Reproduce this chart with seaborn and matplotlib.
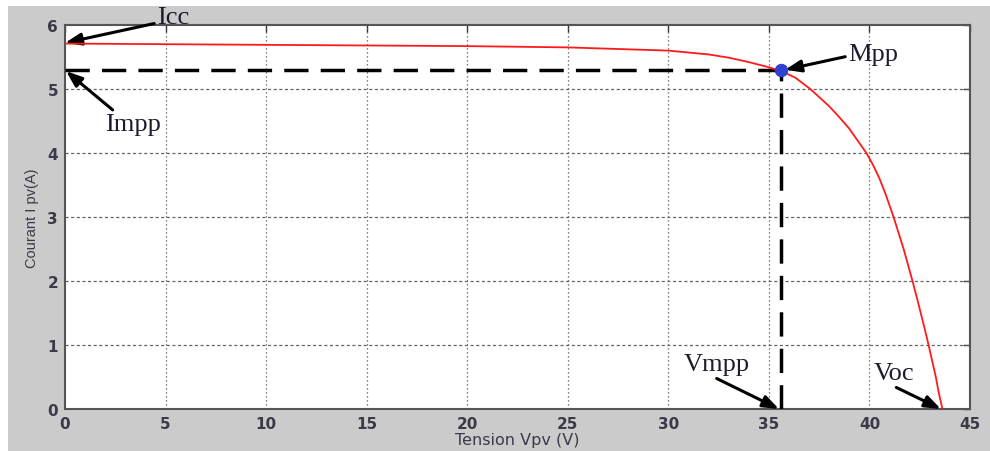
import matplotlib
matplotlib.use("Agg")
import matplotlib.pyplot as plt
from matplotlib.patches import Rectangle
import seaborn as sns
import pandas as pd

# Data
tension_v = [0, 5, 10, 15, 20, 25, 30, 32, 33, 34, 35, 35.6, 36.3, 37.06, 38, 38.5, 39,
             39.4, 39.85, 40.2, 40.5, 40.8, 41.2, 41.45, 41.7, 41.92, 42.14, 42.35,
             42.55, 42.75, 42.94, 43.12, 43.3, 43.45, 43.63]
courant_a = [5.71, 5.70, 5.69, 5.68, 5.67, 5.65, 5.60, 5.54, 5.49, 5.42, 5.34, 5.28,
             5.18, 5.0, 4.73, 4.56, 4.38, 4.2, 4.0, 3.8, 3.6, 3.36, 3.0, 2.75, 2.5,
             2.25, 2.0, 1.75, 1.5, 1.25, 1.0, 0.75, 0.5, 0.25, 0.0]
vmpp = 35.6
impp = 5.29
x_ticks = [0, 5, 10, 15, 20, 25, 30, 35, 40, 45]
y_ticks = [0, 1, 2, 3, 4, 5, 6]

sns.set_theme(style="white")
plt.rcParams['font.family'] = ['DejaVu Sans']

fig = plt.figure(figsize=(9.9, 4.52), dpi=100, facecolor="white")
fig.patches.append(Rectangle((8 / 990, 0), 1, (452 - 7) / 452, transform=fig.transFigure,
                             facecolor="#cbcbcb", edgecolor="none", zorder=-10))
ax = fig.add_axes([65 / 990, 42 / 452, 905 / 990, 384 / 452])
ax.set_facecolor("white")

df = pd.DataFrame({"V": tension_v, "I": courant_a})

# Grid
for xv in x_ticks[1:-1]:
    ax.axvline(xv, color="#555555", lw=0.9, ls=(0, (1, 2.2)), zorder=1)
for yv in y_ticks[1:-1]:
    ax.axhline(yv, color="#666666", lw=0.9, ls=(0, (2.5, 2)), zorder=1)

# Dashed MPP lines
ax.plot([0, vmpp], [impp, impp], color="black", lw=2.5, dashes=(7, 3.5), zorder=3)
ax.plot([vmpp, vmpp], [0, impp], color="black", lw=2.5, dashes=(7, 3.5), zorder=3)

sns.lineplot(data=df, x="V", y="I", ax=ax, color="#ff1a1a", lw=1.3, zorder=4,
             sort=False, estimator=None)
sns.scatterplot(x=[vmpp], y=[impp], ax=ax, color="#3040d0", s=80, edgecolor="#3040d0",
                zorder=5)

ax.set_xlim(0, 45)
ax.set_ylim(0, 6)
ax.set_xticks(x_ticks)
ax.set_yticks(y_ticks)
ax.tick_params(direction="in", length=5, width=1, colors="#333333", top=True, right=True,
               labelsize=11, pad=5)
for lab in ax.get_xticklabels() + ax.get_yticklabels():
    lab.set_fontweight("bold")
    lab.set_color("#3a3a48")
for s in ax.spines.values():
    s.set_color("#555555")
    s.set_linewidth(1.5)

ax.set_xlabel("Tension Vpv (V)", fontsize=11.5, color="#3a3a48", labelpad=1)
ax.set_ylabel("Courant I pv(A)", fontsize=10.5, color="#3a3a48", labelpad=6,
              family=["Liberation Sans", "DejaVu Sans"])

serif = dict(family=["Liberation Serif", "DejaVu Serif"], fontsize=19, color="#1c1c2c")
arrow = dict(arrowstyle="-|>,head_length=0.8,head_width=0.3", color="black", lw=2.2,
             shrinkA=0, shrinkB=0, mutation_scale=12)

ax.annotate("Icc", xy=(0.0, 5.72), xytext=(5.4, 6.12), ha="center", va="center",
            arrowprops=dict(arrow, relpos=(0.0, 0.25)), annotation_clip=False, **serif)
ax.annotate("Impp", xy=(0.05, 5.28), xytext=(3.4, 4.45), ha="center", va="center",
            arrowprops=dict(arrow, relpos=(0.2, 1.0)), **serif)
ax.annotate("Mpp", xy=(35.8, 5.3), xytext=(40.2, 5.55), ha="center", va="center",
            arrowprops=dict(arrow, relpos=(0.0, 0.4)), **serif)
ax.annotate("Vmpp", xy=(35.5, 0.0), xytext=(32.4, 0.70), ha="center", va="center",
            arrowprops=dict(arrow, relpos=(0.4, 0.0)), annotation_clip=False, **serif)
ax.annotate("Voc", xy=(43.55, 0.0), xytext=(41.2, 0.56), ha="center", va="center",
            arrowprops=dict(arrow, relpos=(0.4, 0.0)), annotation_clip=False, **serif)

fig.savefig("out.png", dpi=100, facecolor=fig.get_facecolor())
